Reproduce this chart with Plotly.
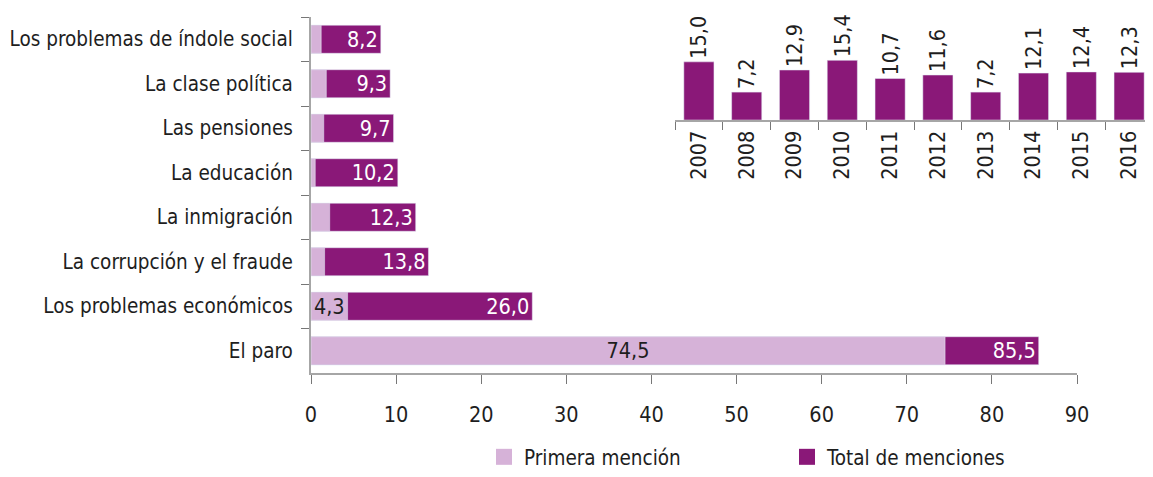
import plotly.graph_objects as go

categorias = ["Los problemas de índole social", "La clase política", "Las pensiones",
              "La educación", "La inmigración", "La corrupción y el fraude",
              "Los problemas económicos", "El paro"]
total_menciones = [8.2, 9.3, 9.7, 10.2, 12.3, 13.8, 26.0, 85.5]
primera_mencion = [1.2, 1.8, 1.5, 0.5, 2.2, 1.6, 4.3, 74.5]
mostrar_primera = [False, False, False, False, False, False, True, True]

anios = ["2007", "2008", "2009", "2010", "2011", "2012", "2013", "2014", "2015", "2016"]
paro_total = [15.0, 7.2, 12.9, 15.4, 10.7, 11.6, 7.2, 12.1, 12.4, 12.3]

DARK = "#8a1878"
LIGHT = "#d6b2d8"
TXT = "#1e1e1e"
AX = "#a6a6a6"
FONT = "DejaVu Sans Condensed, Liberation Sans Narrow, sans-serif"
FS_LAB = 20.5
FS_NUM = 21.5

# figure is rendered at an 8px page offset; sizes below account for it
W, H = 1145, 469
ML, MB = 303, 104
PW, PH = W - ML, H - MB  # 842 x 365

fig = go.Figure()

fig.add_trace(go.Bar(
    y=categorias, x=total_menciones, orientation="h", marker_color=DARK,
    text=[f"{v:.1f}".replace(".", ",") for v in total_menciones],
    textposition="inside", insidetextanchor="end", constraintext="none",
    textfont=dict(color="white", size=FS_NUM, family=FONT),
    showlegend=False, xaxis="x", yaxis="y", hoverinfo="skip"))

fig.add_trace(go.Bar(
    y=categorias, x=primera_mencion, orientation="h", marker_color=LIGHT,
    text=[f"{v:.1f}".replace(".", ",") if m else "" for v, m in zip(primera_mencion, mostrar_primera)],
    textposition="inside", insidetextanchor="middle", constraintext="none",
    textfont=dict(color=TXT, size=FS_NUM, family=FONT),
    showlegend=False, xaxis="x", yaxis="y", hoverinfo="skip"))

fig.add_trace(go.Bar(
    x=anios, y=paro_total, marker_color=DARK,
    text=[f"{v:.1f}".replace(".", ",") for v in paro_total],
    textposition="outside", textangle=-90, constraintext="none", cliponaxis=False,
    textfont=dict(color=TXT, size=FS_NUM, family=FONT),
    showlegend=False, xaxis="x2", yaxis="y2", hoverinfo="skip"))

# legend entries
fig.add_trace(go.Scatter(x=[None], y=[None], mode="markers", name="Primera mención",
                         marker=dict(symbol="square", size=16, color=LIGHT), xaxis="x", yaxis="y"))
fig.add_trace(go.Scatter(x=[None], y=[None], mode="markers", name="Total de menciones",
                         marker=dict(symbol="square", size=16, color=DARK), xaxis="x", yaxis="y"))

fig.update_layout(
    width=W, height=H,
    margin=dict(l=ML, r=0, t=0, b=MB, autoexpand=False),
    paper_bgcolor="white", plot_bgcolor="white",
    barmode="overlay", bargap=0.37,
    font=dict(family=FONT, size=FS_LAB, color=TXT),
    separators=",.",
    xaxis=dict(domain=[0, 766 / PW], range=[0, 90], dtick=10, tick0=0,
               showline=True, linecolor=AX, linewidth=2,
               ticks="outside", ticklen=9, tickcolor="#777", tickwidth=1,
               showgrid=False, zeroline=False, ticklabelstandoff=12,
               tickfont=dict(size=FS_NUM), anchor="y", automargin=False),
    yaxis=dict(domain=[0, 356 / PH], type="category", range=[7.5, -0.5],
               showline=True, linecolor=AX, linewidth=2,
               ticks="outside", ticklen=8, tickcolor="#777", tickwidth=1,
               tickson="boundaries", showgrid=False, ticklabelstandoff=12,
               tickfont=dict(size=FS_LAB), anchor="x", automargin=False),
    xaxis2=dict(domain=[364 / PW, 1], type="category", anchor="y2",
                showline=True, linecolor=AX, linewidth=2,
                ticks="outside", ticklen=8, tickcolor="#777", tickwidth=1,
                tickson="boundaries", tickangle=-90, showgrid=False,
                tickfont=dict(size=FS_NUM), automargin=False),
    yaxis2=dict(domain=[253 / PH, 1], range=[0, 28.9], anchor="x2",
                visible=False, showgrid=False, zeroline=False),
    legend=dict(orientation="h", x=(476 - ML) / PW, xanchor="left",
                y=(PH - H) / PH, yanchor="bottom", entrywidth=258, entrywidthmode="pixels",
                font=dict(size=FS_LAB), itemsizing="trace"),
)

fig.write_html("out.html")
